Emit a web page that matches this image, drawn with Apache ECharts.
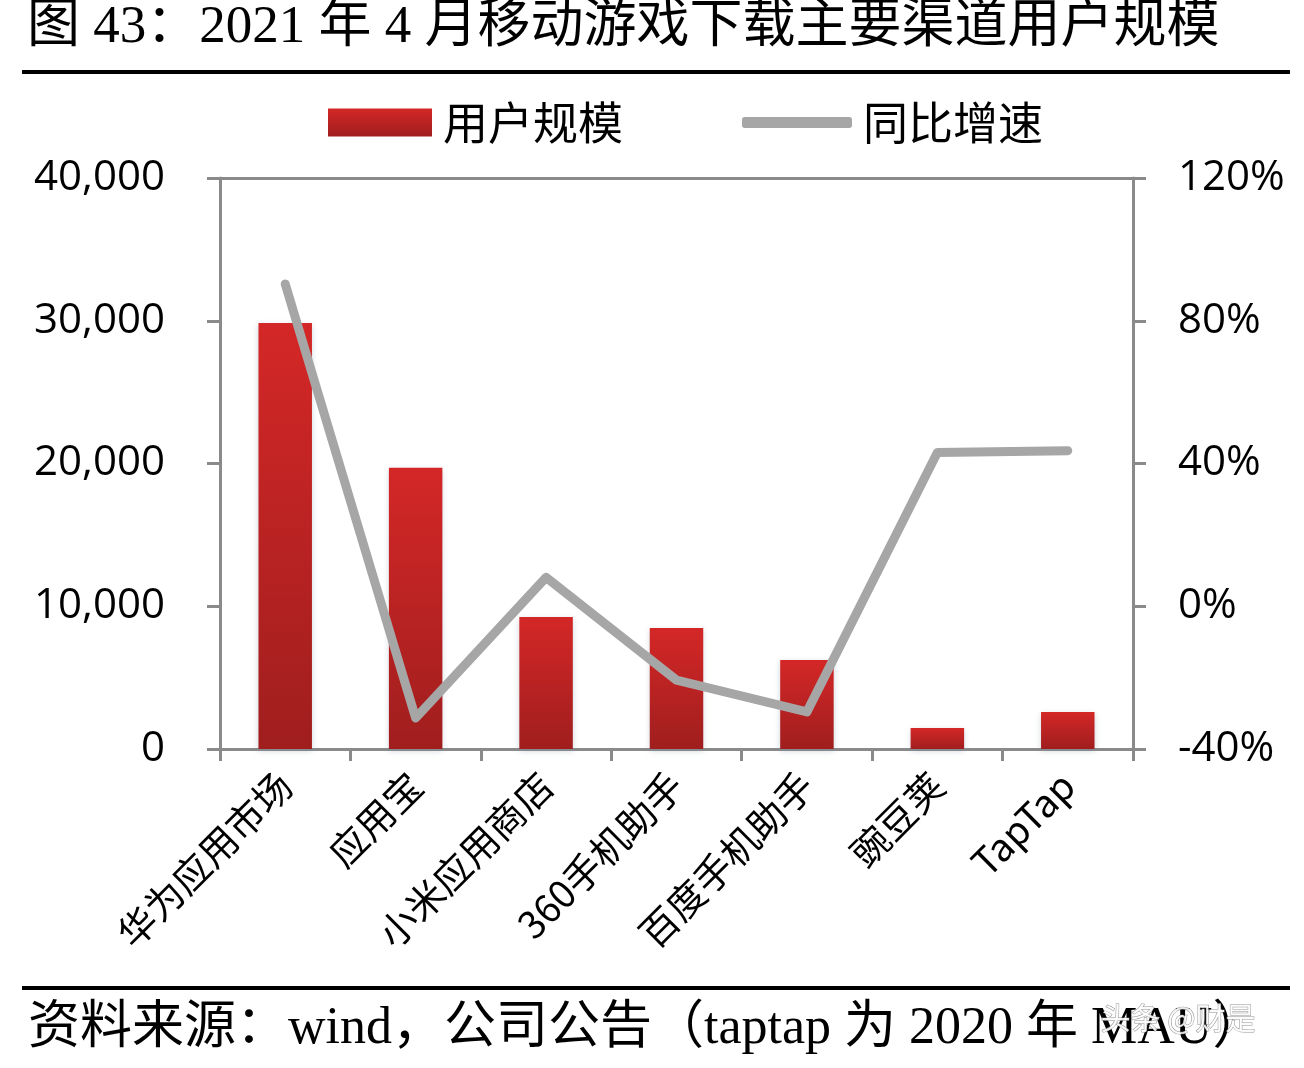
<!DOCTYPE html>
<html>
<head>
<meta charset="utf-8">
<title>2021年4月移动游戏下载主要渠道用户规模</title>
<script src="https://cdn.jsdelivr.net/npm/echarts@6/dist/echarts.min.js"></script>
<style>
    html, body { margin: 0; padding: 0; background: #fff; }
    #chart { width: 1304px; height: 1068px; }
</style>
</head>
<body>
<div id="chart"></div>
<script>
(function () {
    'use strict';

    var categories = ['华为应用市场', '应用宝', '小米应用商店', '360手机助手', '百度手机助手', '豌豆荚', 'TapTap'];
    var userScale = [29850, 19700, 9250, 8480, 6230, 1470, 2590];
    var yoyGrowth = [90.3, -31.3, 8.1, -20.7, -29.6, 43.1, 43.6];

    var leftTicks = { min: 0, max: 40000, interval: 10000 };
    var rightTicks = { min: -40, max: 120, interval: 40 };

    var axisColor = '#8a8a8a';
    var cjkFont = 'Noto Sans CJK SC';
    var numFont = 'Open Sans';

    var chart = echarts.init(document.getElementById('chart'), null, { renderer: 'canvas' });

    var option = {
        backgroundColor: '#ffffff',
        animation: false,
        graphic: [
            {
                type: 'text',
                left: 27,
                top: 2,
                style: {
                    text: '图 43：2021 年 4 月移动游戏下载主要渠道用户规模',
                    font: '53px "Liberation Serif", "Noto Sans CJK SC"',
                    fill: '#000'
                }
            },
            {
                type: 'rect',
                shape: { x: 22, y: 70, width: 1268, height: 4 },
                style: { fill: '#000' }
            },
            {
                type: 'rect',
                shape: { x: 22, y: 986, width: 1268, height: 4 },
                style: { fill: '#000' }
            },
            {
                type: 'text',
                left: 28,
                top: 1003,
                style: {
                    text: '资料来源：wind，公司公告（taptap 为 2020 年 MAU）',
                    font: '52px "Liberation Serif", "Noto Sans CJK SC"',
                    fill: '#000'
                }
            },
            {
                type: 'text',
                left: 1100,
                top: 1002,
                style: {
                    text: '头条 @财是',
                    font: '30px "Noto Sans CJK SC"',
                    fill: 'rgba(255,255,255,0.9)',
                    stroke: 'rgba(120,120,120,0.8)',
                    lineWidth: 1
                }
            }
        ],
        legend: [
            {
                left: 328,
                top: 100,
                padding: 0,
                itemWidth: 104,
                itemHeight: 28,
                icon: 'rect',
                data: ['用户规模'],
                textStyle: {
                    fontFamily: cjkFont,
                    fontSize: 45,
                    color: '#000',
                    padding: [0, 0, 0, 6]
                }
            },
            {
                left: 742,
                top: 100,
                padding: 0,
                itemWidth: 110,
                itemHeight: 11,
                icon: 'roundRect',
                data: [{ name: '同比增速', itemStyle: { color: '#a6a6a6' } }],
                textStyle: {
                    fontFamily: cjkFont,
                    fontSize: 45,
                    color: '#000',
                    padding: [0, 0, 0, 6]
                }
            }
        ],
        grid: {
            left: 220,
            right: 171,
            top: 178,
            bottom: 319,
            containLabel: false
        },
        xAxis: [
            {
                type: 'category',
                data: categories,
                boundaryGap: true,
                axisLine: { show: true, onZero: false, lineStyle: { color: axisColor, width: 3 } },
                axisTick: { show: true, length: 12, alignWithLabel: false, lineStyle: { color: axisColor, width: 3 } },
                axisLabel: {
                    rotate: 45,
                    margin: 30,
                    interval: 0,
                    color: '#000',
                    fontFamily: cjkFont,
                    fontSize: 38
                }
            },
            {
                type: 'category',
                position: 'top',
                data: categories,
                axisLine: { show: true, onZero: false, lineStyle: { color: axisColor, width: 3 } },
                axisTick: { show: false },
                axisLabel: { show: false }
            }
        ],
        yAxis: [
            {
                type: 'value',
                min: leftTicks.min,
                max: leftTicks.max,
                interval: leftTicks.interval,
                axisLine: { show: true, onZero: false, lineStyle: { color: axisColor, width: 3 } },
                axisTick: { show: true, length: 13, lineStyle: { color: axisColor, width: 3 } },
                splitLine: { show: false },
                axisLabel: {
                    margin: 55,
                    color: '#000',
                    fontFamily: numFont,
                    fontSize: 42,
                    formatter: function (v) {
                        return v.toLocaleString('en-US');
                    }
                }
            },
            {
                type: 'value',
                position: 'right',
                min: rightTicks.min,
                max: rightTicks.max,
                interval: rightTicks.interval,
                axisLine: { show: true, onZero: false, lineStyle: { color: axisColor, width: 3 } },
                axisTick: { show: true, length: 13, lineStyle: { color: axisColor, width: 3 } },
                splitLine: { show: false },
                axisLabel: {
                    margin: 45,
                    color: '#000',
                    fontFamily: numFont,
                    fontSize: 42,
                    formatter: '{value}%'
                }
            }
        ],
        series: [
            {
                name: '用户规模',
                type: 'bar',
                data: userScale,
                barWidth: '41%',
                yAxisIndex: 0,
                itemStyle: {
                    color: new echarts.graphic.LinearGradient(0, 0, 0, 1, [
                        { offset: 0, color: '#d42727' },
                        { offset: 1, color: '#a01e1e' }
                    ]),
                    shadowColor: 'rgba(120,140,160,0.35)',
                    shadowBlur: 6,
                    shadowOffsetY: 2
                }
            },
            {
                name: '同比增速',
                type: 'line',
                data: yoyGrowth,
                yAxisIndex: 1,
                symbol: 'none',
                showSymbol: false,
                itemStyle: { color: '#a6a6a6' },
                lineStyle: {
                    color: '#a6a6a6',
                    width: 9,
                    cap: 'round',
                    join: 'round'
                },
                z: 5
            }
        ]
    };

    chart.setOption(option);
}());
</script>
</body>
</html>
